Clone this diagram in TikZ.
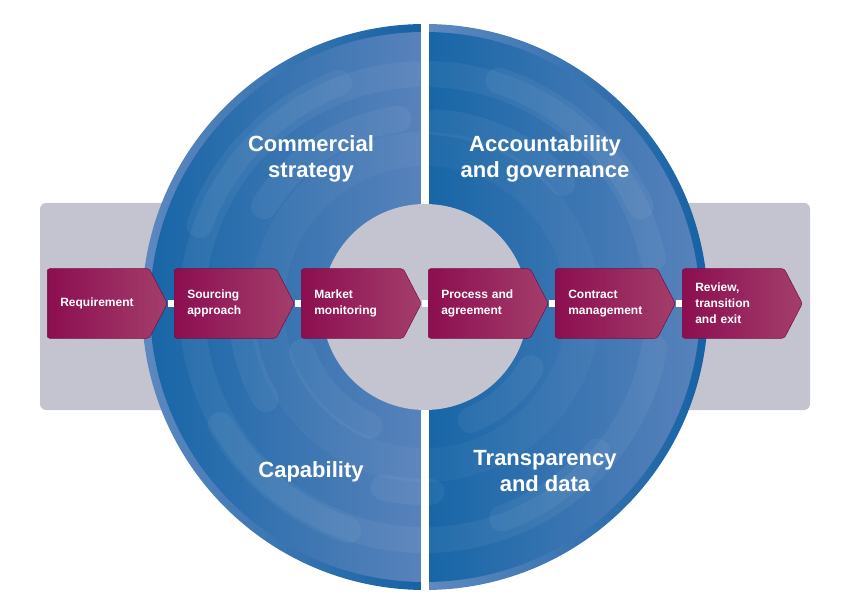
\documentclass[tikz,border=0pt]{standalone}
\usepackage{fontspec}
\setmainfont{Liberation Sans}
\usepackage{color}
\usepackage{tikz}
\usetikzlibrary{shapes.symbols}

\definecolor{panelgray}{RGB}{196,196,208}
\definecolor{blueD}{RGB}{24,102,167}
\definecolor{blueL}{RGB}{88,130,187}
\definecolor{rimL}{RGB}{94,136,192}
\definecolor{rimD}{RGB}{22,98,164}
\definecolor{stageL}{RGB}{140,14,80}
\definecolor{stageR}{RGB}{163,62,107}
\definecolor{stageline}{RGB}{122,10,68}

\begin{document}
\begin{tikzpicture}
	[x=1pt,y=-1pt,
	stage/.style={signal,signal to=east,signal pointer angle=125,anchor=west,
		draw=stageline,line width=0.5pt,left color=stageL,right color=stageR,
		rounded corners=2.5pt,text=white,font=\fontsize{12}{16}\selectfont\bfseries,
		text width=76pt,align=left,inner xsep=13pt,inner ysep=0pt,minimum height=69.5pt},
	link/.style={white,line width=6.5pt},
	heading/.style={text=white,align=center,font=\fontsize{22}{26.5}\selectfont\bfseries},
	swirl/.style={white,opacity=0.05,line width=26pt,line cap=round}]
	\useasboundingbox (0,0) rectangle (843,612);
	\coordinate (C) at (425,307);
	%fondo gris
	\fill[panelgray,rounded corners=6pt] (40,203) rectangle (810,410);
	%borde del anillo
	\begin{scope}
		\clip (C) circle[radius=283];
		\shade[left color=rimL,right color=rimD] (142,0) rectangle (421,612);
		\shade[left color=rimL,right color=rimD] (429,0) rectangle (708,612);
	\end{scope}
	%anillo
	\begin{scope}
		\clip (C) circle[radius=275];
		\shade[left color=blueD,right color=blueL] (150,0) rectangle (421,612);
		\shade[left color=blueD,right color=blueL] (429,0) rectangle (700,612);
		\draw[swirl,opacity=0.035,line width=34pt] (C) circle[radius=158];
		\draw[swirl] (C) ++(249:240) arc[start angle=249,end angle=200,radius=240];
		\draw[swirl] (C) ++(262:190) arc[start angle=262,end angle=212,radius=190];
		\draw[swirl] (C) ++(115:131) arc[start angle=115,end angle=160,radius=131];
		\draw[swirl] (C) ++(109:236) arc[start angle=109,end angle=150,radius=236];
		\draw[swirl] (C) ++(103:185) arc[start angle=103,end angle=88,radius=185];
		\draw[swirl] (C) ++(150:184) arc[start angle=150,end angle=172,radius=184];
		\draw[swirl] (C) ++(288:238) arc[start angle=288,end angle=335,radius=238];
		\draw[swirl] (C) ++(273:185) arc[start angle=273,end angle=318,radius=185];
		\draw[swirl] (C) ++(68:122) arc[start angle=68,end angle=30,radius=122];
		\draw[swirl] (C) ++(70:225) arc[start angle=70,end angle=40,radius=225];
		\draw[swirl] (C) ++(348:233) arc[start angle=348,end angle=10,radius=233];
	\end{scope}
	\fill[white] (421,15) rectangle (429,600);
	\fill[panelgray] (C) circle[radius=103];
	%etapas
	\node (req) at (47,303.5) [stage] {Requirement};
	\node (src) at (174,303.5) [stage] {Sourcing\\approach};
	\node (mkt) at (301,303.5) [stage] {Market\\monitoring};
	\node (proc) at (428,303.5) [stage] {Process and\\agreement};
	\node (contr) at (555,303.5) [stage] {Contract\\management};
	\node (rev) at (682,303.5) [stage] {Review,\\transition\\and exit};
	\draw[link] (req.east) -- (src.west);
	\draw[link] (src.east) -- (mkt.west);
	\draw[link] (mkt.east) -- (proc.west);
	\draw[link] (proc.east) -- (contr.west);
	\draw[link] (contr.east) -- (rev.west);
	%titulos
	\node (comm) at (311,159) [heading] {Commercial\\strategy};
	\node (acct) at (545,159) [heading] {Accountability\\and governance};
	\node (capa) at (311,472) [heading] {Capability};
	\node (trans) at (545,471) [heading] {Transparency\\and data};
\end{tikzpicture}
\end{document}
